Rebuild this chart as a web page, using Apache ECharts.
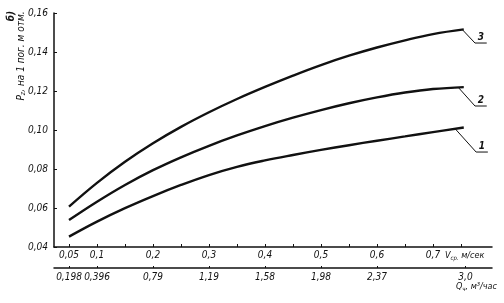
<!DOCTYPE html>
<html><head><meta charset="utf-8">
<script src="https://cdn.jsdelivr.net/npm/echarts@6/dist/echarts.min.js"></script>
<style>html,body{margin:0;padding:0;background:#fff}#c{width:504px;height:303px}</style>
</head><body><div id="c"></div>
<script>
// Velocity, m/s
const vSpeed = [0.05,0.1,0.15,0.2,0.25,0.3,0.35,0.4,0.45,0.5,0.55,0.6,0.65,0.7,0.755];
// P_z per 1 running metre
const curve1 = [0.0453,0.0530,0.0599,0.0661,0.0718,0.0769,0.0811,0.0844,0.0872,0.0898,0.0922,0.0945,0.0967,0.0989,0.1013];
const curve2 = [0.0538,0.0632,0.0718,0.0794,0.0860,0.0919,0.0972,0.1020,0.1063,0.1102,0.1137,0.1167,0.1192,0.1210,0.1220];
const curve3 = [0.0607,0.0729,0.0837,0.0932,0.1016,0.1091,0.1159,0.1221,0.1279,0.1333,0.1381,0.1423,0.1460,0.1492,0.1516];
const curveNames = ['1','2','3'];
// velocity axis ticks / labels
const vTicks = [0.05,0.1,0.15,0.2,0.25,0.3,0.35,0.4,0.45,0.5,0.55,0.6,0.65,0.7,0.75];
const vLabelVals = [0.05,0.1,0.2,0.3,0.4,0.5,0.6,0.7];
const vLabels = ['0,05','0,1','0,2','0,3','0,4','0,5','0,6','0,7'];
// flow axis (Q = 3.96 * V)
const qLabelVals = [0.05,0.1,0.2,0.3,0.4,0.5,0.6,0.758];
const qLabels = ['0,198','0,396','0,79','1,19','1,58','1,98','2,37','3,0'];
// leader lines for curve numbers: [curve end, elbow, tail]
const leaders = [
  [[0.74,0.1005],[0.777,0.0887],[0.798,0.0887]],
  [[0.745,0.1219],[0.775,0.1123],[0.796,0.1123]],
  [[0.752,0.1516],[0.775,0.1446],[0.796,0.1446]]
];

const FONT = "'DejaVu Sans Condensed', 'Liberation Sans', sans-serif";
const INK = '#111';
const chart = echarts.init(document.getElementById('c'), null, {renderer:'canvas'});
const zip = arr => vSpeed.map((v,i)=>[v,arr[i]]);
const curves = [curve1, curve2, curve3];
const series = [];
curves.forEach((c,i)=>{
  series.push({type:'line', data:zip(c), smooth:0.4, showSymbol:false, silent:true,
    lineStyle:{color:INK, width:2.4}});
});
leaders.forEach((l,i)=>{
  series.push({type:'line', data:l, showSymbol:false, silent:true,
    lineStyle:{color:INK, width:1},
    markPoint:{symbol:'circle', symbolSize:0, silent:true,
      data:[{coord:[(l[1][0]+l[2][0])/2, l[1][1]], label:{show:true, formatter:curveNames[i], position:'top', distance:1,
        color:INK, fontFamily:FONT, fontStyle:'italic', fontWeight:'bold', fontSize:10}}]}
  });
});
const fmtIdx = (vals, labels) => v => { const k = vals.findIndex(x=>Math.abs(x-v)<1e-6); return k<0?'':labels[k]; };
chart.setOption({
  animation:false,
  backgroundColor:'#fff',
  grid:{left:54, right:12, top:13, bottom:56},
  xAxis:[{
    type:'value', min:0.0232, max:0.8054, position:'bottom',
    axisLine:{lineStyle:{color:INK, width:1.5}},
    axisTick:{inside:true, length:3, customValues:vTicks, lineStyle:{color:INK}},
    axisLabel:{customValues:vLabelVals, formatter:fmtIdx(vLabelVals,vLabels), margin:3,
      color:INK, fontFamily:FONT, fontStyle:'italic', fontSize:10},
    splitLine:{show:false}
  },{
    type:'value', min:0.0232, max:0.8054, position:'bottom', offset:21,
    axisLine:{show:true, lineStyle:{color:INK, width:1.5}},
    axisTick:{inside:true, length:2, customValues:qLabelVals, lineStyle:{color:INK}},
    axisLabel:{customValues:qLabelVals, formatter:fmtIdx(qLabelVals,qLabels), margin:4,
      color:INK, fontFamily:FONT, fontStyle:'italic', fontSize:10},
    splitLine:{show:false}
  }],
  yAxis:{
    type:'value', min:0.04, max:0.16, interval:0.02,
    axisLine:{show:true, lineStyle:{color:INK, width:1.5}},
    axisTick:{show:true, inside:true, length:3, lineStyle:{color:INK}},
    axisLabel:{formatter:v=>v.toFixed(2).replace('.',','), margin:6,
      color:INK, fontFamily:FONT, fontStyle:'italic', fontSize:10},
    splitLine:{show:false}
  },
  series:series,
  graphic:[
    {type:'text', x:21, y:56, rotation:Math.PI/2, style:{
      text:'{m|P}{s|z}{m|, на 1 пог. м отм.}', align:'center', verticalAlign:'middle',
      rich:{m:{fontFamily:FONT, fontStyle:'italic', fontSize:10, fill:INK},
            s:{fontFamily:FONT, fontStyle:'italic', fontSize:7, fill:INK, padding:[5,0,0,0]}}}},
    {type:'text', x:11, y:16, rotation:Math.PI/2, style:{
      text:'б)', align:'center', verticalAlign:'middle', fontFamily:FONT, fontStyle:'italic', fontWeight:'bold', fontSize:10, fill:INK}},
    {type:'text', x:445, y:256, style:{
      text:'{m|V}{s|ср.}{m| м/сек}', align:'left', verticalAlign:'middle',
      rich:{m:{fontFamily:FONT, fontStyle:'italic', fontSize:9, fill:INK},
            s:{fontFamily:FONT, fontStyle:'italic', fontSize:6, fill:INK, padding:[4,0,0,0]}}}},
    {type:'text', x:456, y:287, style:{
      text:'{m|Q}{s|ч}{m|, м³/час}', align:'left', verticalAlign:'middle',
      rich:{m:{fontFamily:FONT, fontStyle:'italic', fontSize:9, fill:INK},
            s:{fontFamily:FONT, fontStyle:'italic', fontSize:6, fill:INK, padding:[4,0,0,0]}}}}
  ]
});
</script></body></html>
